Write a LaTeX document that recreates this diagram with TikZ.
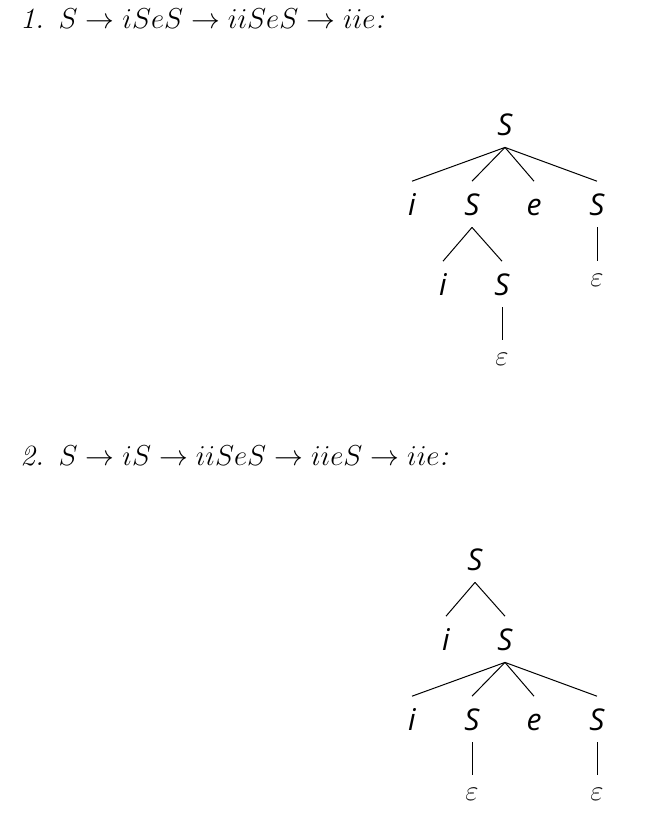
\documentclass[tikz,border=0pt]{standalone}
\usepackage{fontspec}
\newfontfamily\treefont{Open Sans}
\usetikzlibrary{arrows.meta}
\tikzset{
    sym/.style={anchor=base, inner xsep=1pt, inner ysep=6pt, text height=10.7pt, text depth=0pt, font=\treefont\itshape\fontsize{15}{18}\selectfont},
    eps/.style={anchor=base, inner xsep=1pt, inner ysep=5.5pt, text height=7pt, text depth=0pt, text=black!90, font=\fontsize{13.5}{16}\selectfont},
    deriv/.style={anchor=base west, inner sep=0pt, font=\fontsize{14.7}{18}\selectfont},
    edge/.style={line width=0.5pt}
}

\begin{document}
\begin{tikzpicture}[x=0.5pt, y=-0.5pt, >=Latex]
\useasboundingbox (0,0) rectangle (667,826);

% Derivation 1
\node[deriv] (L1) at (20,28) {\textit{1.}\enspace$S\rightarrow iSeS\rightarrow iiSeS\rightarrow iie$\textit{:}};

\node[sym] (A0) at (505,135) {S};
\node[sym] (B0) at (412,215) {i};
\node[sym] (B1) at (472,215) {S};
\node[sym] (B2) at (534,215) {e};
\node[sym] (B3) at (597,215) {S};
\node[sym] (C0) at (443,295) {i};
\node[sym] (C1) at (502,295) {S};
\node[eps] (D0) at (597,286) {$\varepsilon$};
\node[eps] (D1) at (502,365) {$\varepsilon$};

\foreach \j in {0,1,2,3} {
  \draw[edge] (A0.south) -- (B\j.north);
}
\foreach \j in {0,1} {
  \draw[edge] (B1.south) -- (C\j.north);
}
\draw[edge] (B3.south) -- (D0.north);
\draw[edge] (C1.south) -- (D1.north);

% Derivation 2
\node[deriv] (L2) at (20,465) {\textit{2.}\enspace$S\rightarrow iS\rightarrow iiSeS\rightarrow iieS\rightarrow iie$\textit{:}};

\node[sym] (P0) at (475,570) {S};
\node[sym] (Q0) at (446,650) {i};
\node[sym] (Q1) at (505,650) {S};
\node[sym] (R0) at (412,730) {i};
\node[sym] (R1) at (472,730) {S};
\node[sym] (R2) at (534,730) {e};
\node[sym] (R3) at (597,730) {S};
\node[eps] (E0) at (472,800) {$\varepsilon$};
\node[eps] (E1) at (597,800) {$\varepsilon$};

\foreach \j in {0,1} {
  \draw[edge] (P0.south) -- (Q\j.north);
}
\foreach \j in {0,1,2,3} {
  \draw[edge] (Q1.south) -- (R\j.north);
}
\draw[edge] (R1.south) -- (E0.north);
\draw[edge] (R3.south) -- (E1.north);

\end{tikzpicture}
\end{document}
